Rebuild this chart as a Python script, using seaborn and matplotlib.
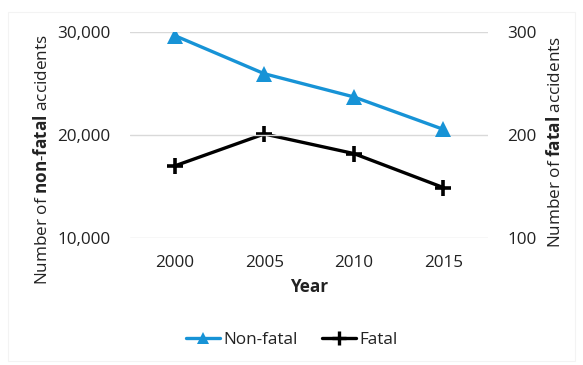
import matplotlib
matplotlib.use("Agg")
import matplotlib.pyplot as plt
import seaborn as sns
import pandas as pd
from matplotlib.lines import Line2D

years = ["2000", "2005", "2010", "2015"]
non_fatal = [29650, 25950, 23700, 20550]
fatal = [170, 201, 182, 149]

sns.set_theme(style="white")
plt.rcParams["font.family"] = ["Open Sans", "DejaVu Sans"]
plt.rcParams["mathtext.fontset"] = "custom"
plt.rcParams["mathtext.rm"] = "Open Sans"
plt.rcParams["mathtext.bf"] = "Open Sans:bold"

blue = "#1793d6"
black = "#000000"
text_c = "#222222"
fs = 12.3

fig = plt.figure(figsize=(5.83, 3.65), dpi=100)
ax = fig.add_axes([130 / 583, (365 - 238) / 365, (488 - 130) / 583, 206 / 365])
ax2 = ax.twinx()

df = pd.DataFrame({"Year": years, "Non-fatal": non_fatal, "Fatal": fatal})

sns.lineplot(data=df, x="Year", y="Non-fatal", ax=ax, color=blue, lw=2.4,
             marker="^", markersize=11, markeredgewidth=0, sort=False)
sns.lineplot(data=df, x="Year", y="Fatal", ax=ax2, color=black, lw=2.4,
             marker="+", markersize=12, markeredgewidth=2.6,
             markeredgecolor=black, sort=False)

ax.set_xlim(-0.5, 3.5)
ax.set_ylim(10000, 30000)
ax2.set_ylim(100, 300)
ax.set_yticks([10000, 20000, 30000])
ax.set_yticklabels(["10,000", "20,000", "30,000"])
ax2.set_yticks([100, 200, 300])
ax2.set_yticklabels(["100", "200", "300"])

for a in (ax, ax2):
    for s in a.spines.values():
        s.set_visible(False)
    a.tick_params(length=0, labelsize=fs, labelcolor=text_c)
ax.tick_params(axis="y", pad=14)
ax2.tick_params(axis="y", pad=14)
ax.tick_params(axis="x", pad=12)
ax.yaxis.grid(True, color="#d9d9d9", lw=1)
ax.set_axisbelow(True)
ax.set_zorder(ax2.get_zorder() + 1)
ax.patch.set_visible(False)

ax.set_xlabel("Year", fontsize=fs, fontweight="bold", color=text_c, labelpad=5)
ax.set_ylabel("")
ax2.set_ylabel("")

fig.text(42 / 583, 1 - 160 / 365, r"Number of $\mathbf{non}$-$\mathbf{fatal}$ accidents",
         rotation=90, ha="center", va="center", fontsize=fs, color=text_c)
fig.text(555 / 583, 1 - 142 / 365, r"Number of $\mathbf{fatal}$ accidents",
         rotation=90, ha="center", va="center", fontsize=fs, color=text_c)

handles = [
    Line2D([], [], color=blue, lw=2.4, marker="^", markersize=9, markeredgewidth=0),
    Line2D([], [], color=black, lw=2.4, marker="+", markersize=10, markeredgewidth=2.4),
]
fig.legend(handles, ["Non-fatal", "Fatal"], loc="center", bbox_to_anchor=(0.5, 1 - 340 / 365),
           ncol=2, frameon=False, fontsize=fs, handlelength=2.0, columnspacing=1.4,
           handletextpad=0.2, labelcolor=text_c)

fig.patches.append(plt.Rectangle((8 / 583, 0.01), 1 - 16 / 583, 1 - 12 / 365 - 0.01,
                                 transform=fig.transFigure, fill=False,
                                 edgecolor="#f3f3f3", lw=0.8))

fig.savefig("out.png", dpi=100)
